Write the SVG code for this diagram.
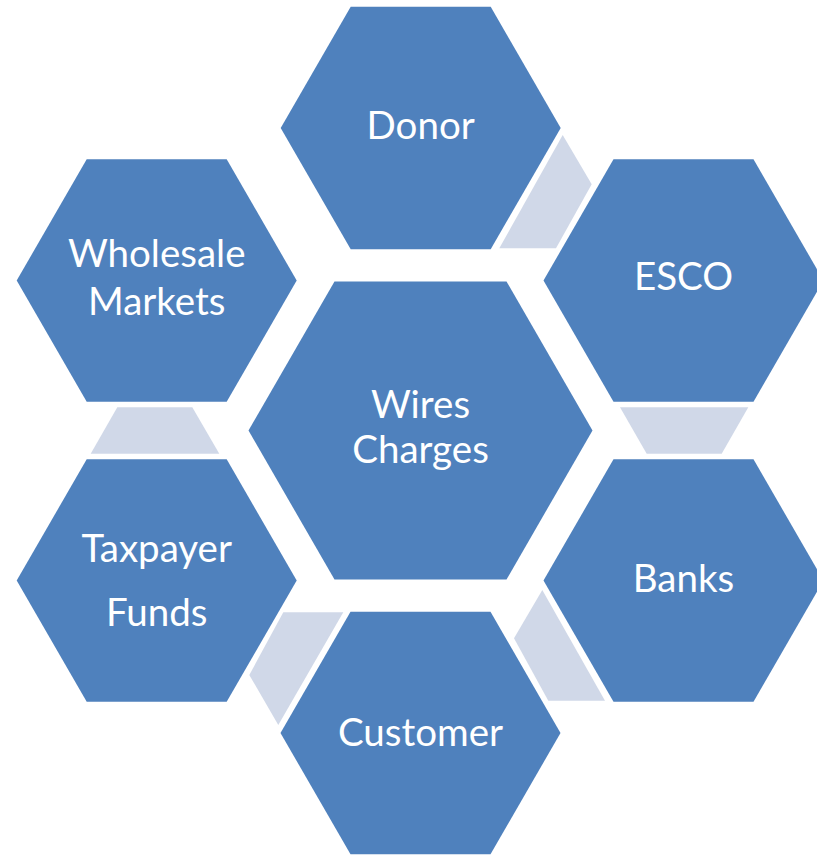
<svg xmlns="http://www.w3.org/2000/svg" width="817" height="855" viewBox="0 0 817 855">
<style>
.hex{fill:#4F81BD}
.link{fill:#D0D8E8}
.lbl{fill:#FFFFFF;font-family:Lato,"Liberation Sans",sans-serif;font-size:38.5px;text-anchor:middle}
</style>
<rect width="817" height="855" fill="#FFFFFF"/>
<g id="connectors">
<polygon class="link" points="562.7,135 591.7,184.3 556,248.3 499.3,248.3"/>
<polygon class="link" points="620,407.3 748.3,407.3 721.7,453.7 646.7,453.7"/>
<polygon class="link" points="542.3,590 605,700.7 548.3,700.7 514,638.3"/>
<polygon class="link" points="283.3,612.3 343.3,612.3 278.3,725 249.3,675"/>
<polygon class="link" points="117.3,407.3 192.3,407.3 219.3,453.7 90.7,453.7"/>
</g>
<g id="donor">
<polygon class="hex" points="280.7,128 350.7,6.8 490.7,6.8 560.7,128 490.7,249.2 350.7,249.2"/>
<text class="lbl" x="420.7" y="139.3">Donor</text>
</g>
<g id="esco">
<polygon class="hex" points="543.5,280.5 613.5,159.3 753.5,159.3 823.5,280.5 753.5,401.7 613.5,401.7"/>
<text class="lbl" x="683.5" y="290">ESCO</text>
</g>
<g id="banks">
<polygon class="hex" points="543.5,580.5 613.5,459.3 753.5,459.3 823.5,580.5 753.5,701.7 613.5,701.7"/>
<text class="lbl" x="683.5" y="592.3">Banks</text>
</g>
<g id="customer">
<polygon class="hex" points="280.5,733 350.5,611.8 490.5,611.8 560.5,733 490.5,854.2 350.5,854.2"/>
<text class="lbl" x="420.5" y="745.7">Customer</text>
</g>
<g id="taxpayer">
<polygon class="hex" points="16.7,580.5 86.7,459.3 226.7,459.3 296.7,580.5 226.7,701.7 86.7,701.7"/>
<text class="lbl" x="156.7" y="561.7">Taxpayer</text>
<text class="lbl" x="156.7" y="625.7">Funds</text>
</g>
<g id="wholesale">
<polygon class="hex" points="16.7,280.5 86.7,159.3 226.7,159.3 296.7,280.5 226.7,401.7 86.7,401.7"/>
<text class="lbl" x="156.7" y="266.7">Wholesale</text>
<text class="lbl" x="156.7" y="315">Markets</text>
</g>
<g id="wires-charges">
<polygon class="hex" points="248.5,430.5 334.5,281.5 506.5,281.5 592.5,430.5 506.5,579.5 334.5,579.5"/>
<text class="lbl" x="420.5" y="418.3">Wires</text>
<text class="lbl" x="420.5" y="463.3">Charges</text>
</g>
</svg>
